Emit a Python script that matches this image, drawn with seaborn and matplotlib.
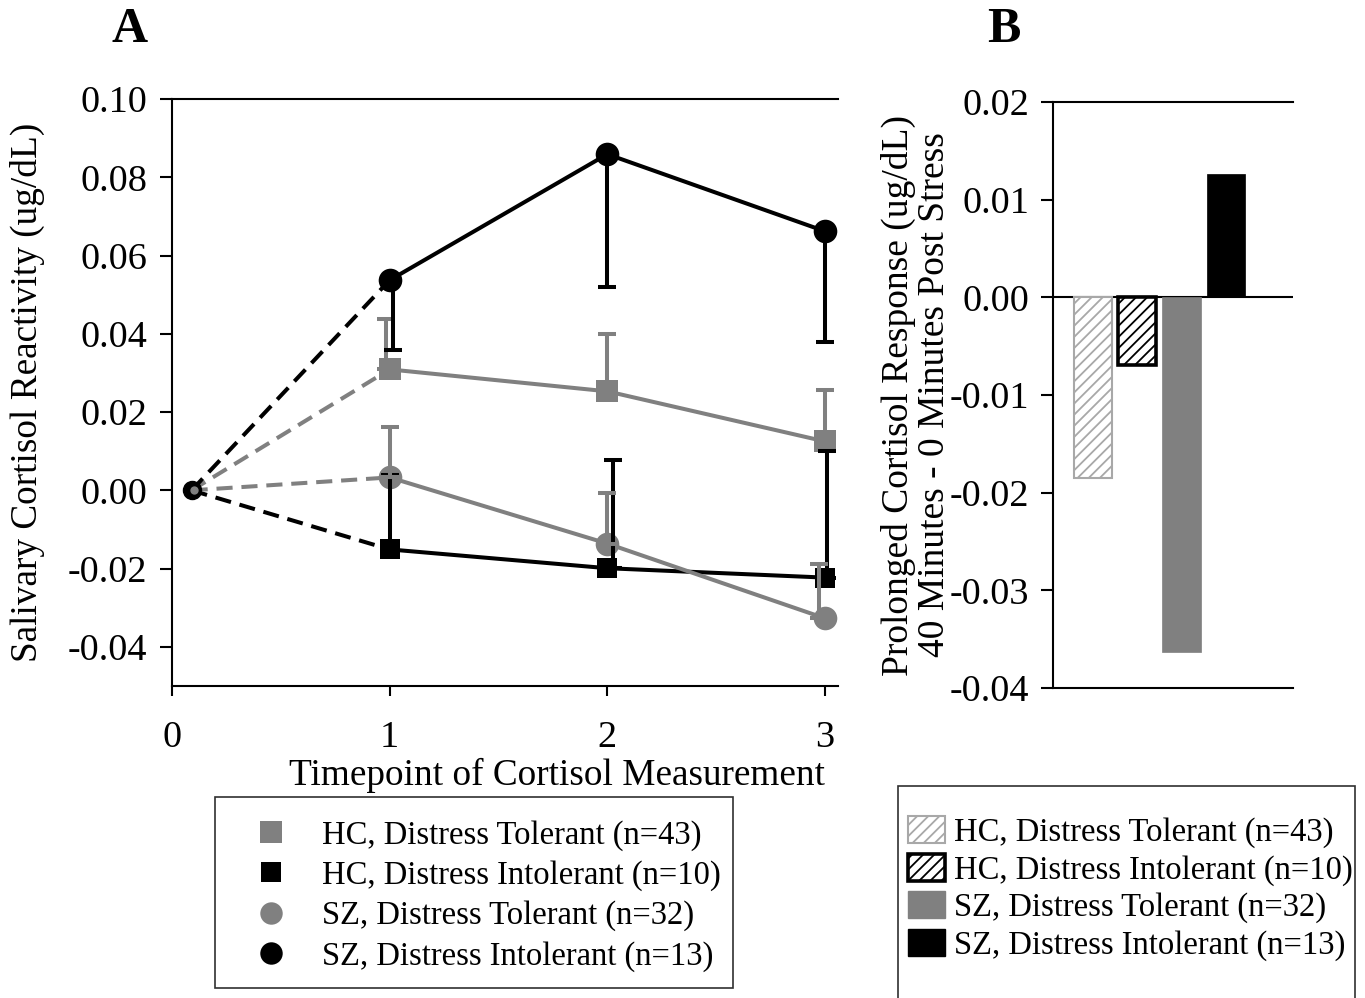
import matplotlib
matplotlib.use("Agg")
import matplotlib.pyplot as plt
import seaborn as sns
import pandas as pd
from matplotlib.lines import Line2D
from matplotlib.patches import Patch, Rectangle

# datos del panel A (reactividad del cortisol)
times = [1, 2, 3]
baseline_x = 0.09
hc_tol_mean = [0.0309, 0.0253, 0.0125]
hc_tol_err = [0.0128, 0.0146, 0.0131]
hc_intol_mean = [-0.0151, -0.0199, -0.0223]
hc_intol_err = [0.0189, 0.0276, 0.0323]
sz_tol_mean = [0.0033, -0.0136, -0.0327]
sz_tol_err = [0.0128, 0.0128, 0.0138]
sz_intol_mean = [0.0537, 0.0859, 0.0662]
sz_intol_err = [0.0179, 0.0340, 0.0283]

# datos del panel B (respuesta prolongada)
bar_groups = ["HC, Distress Tolerant (n=43)", "HC, Distress Intolerant (n=10)",
              "SZ, Distress Tolerant (n=32)", "SZ, Distress Intolerant (n=13)"]
bar_values = [-0.0185, -0.0069, -0.0363, 0.0126]

x_ticks = [0, 1, 2, 3]
ya_ticks = [-0.04, -0.02, 0.00, 0.02, 0.04, 0.06, 0.08, 0.10]
yb_ticks = [-0.04, -0.03, -0.02, -0.01, 0.00, 0.01, 0.02]

sns.set_style("ticks")
plt.rcParams["font.family"] = ["Liberation Serif", "DejaVu Serif"]
plt.rcParams["hatch.linewidth"] = 1.3
for k in ["text.color", "axes.labelcolor", "xtick.color", "ytick.color"]:
    plt.rcParams[k] = "black"

GRAY = "#808080"
LW = 2.9

fig = plt.figure(figsize=(13.65, 9.98), dpi=100)
axa = fig.add_axes([172 / 1365, 1 - 686 / 998, 666 / 1365, 587 / 998])
axb = fig.add_axes([1053 / 1365, 1 - 688 / 998, 240 / 1365, 586 / 998])

# series: (medias, error, color, marcador, tamano, error hacia arriba?, desplazamiento x del error)
series = [
    (hc_tol_mean, hc_tol_err, GRAY, "s", 16, True, [-0.018, 0.0, 0.0]),
    (hc_intol_mean, hc_intol_err, "black", "s", 15, True, [0.0, 0.025, 0.01]),
    (sz_tol_mean, sz_tol_err, GRAY, "o", 17, True, [0.0, 0.0, -0.028]),
    (sz_intol_mean, sz_intol_err, "black", "o", 17, False, [0.015, 0.0, 0.0]),
]

for mean, err, col, mk, ms, up, dx in series:
    axa.plot([baseline_x, times[0]], [0, mean[0]], color=col, lw=LW, ls="--",
             dashes=(4, 2.2), zorder=2)
for mean, err, col, mk, ms, up, dx in series:
    df = pd.DataFrame({"t": times, "v": mean})
    sns.lineplot(data=df, x="t", y="v", ax=axa, color=col, lw=LW, marker=mk,
                 markersize=ms, markeredgewidth=0, zorder=3)
for mean, err, col, mk, ms, up, dx in series:
    xs = [t + d for t, d in zip(times, dx)]
    yerr = [[0] * 3, err] if up else [err, [0] * 3]
    axa.errorbar(xs, mean, yerr=yerr, fmt="none", ecolor=col, elinewidth=LW,
                 capsize=6.5, capthick=LW, zorder=4)

# punto de base
axa.plot([baseline_x], [0], marker="o", color="black", markersize=13, zorder=5)
axa.plot([baseline_x + 0.01], [0], marker="o", color=GRAY, markersize=6,
         markeredgewidth=0, zorder=6)

axa.set_xlim(0, 3.06)
axa.set_ylim(-0.05, 0.10)
axa.set_xticks(x_ticks)
axa.set_yticks(ya_ticks)
axa.set_yticklabels([f"{v:.2f}" for v in ya_ticks])
axa.spines["right"].set_visible(False)
for s in ["left", "bottom", "top"]:
    axa.spines[s].set_linewidth(1.5)
    axa.spines[s].set_color("black")
axa.tick_params(axis="y", direction="out", length=9, width=1.5, pad=9, labelsize=27.5)
axa.tick_params(axis="x", direction="out", length=7, width=1.5, pad=18, labelsize=27.5)
axa.set_xlabel("Timepoint of Cortisol Measurement", fontsize=26.8)
axa.xaxis.set_label_coords(0.578, -0.123)
axa.xaxis.label.set_va("top")
axa.set_ylabel("Salivary Cortisol Reactivity (ug/dL)", fontsize=26.8)
axa.yaxis.set_label_coords(-0.19, 0.5)

# panel B
sns.barplot(x=bar_groups, y=bar_values, hue=bar_groups,
            palette=["white", "white", GRAY, "black"], saturation=1,
            width=0.86, ax=axb, legend=False)
bar_styles = [
    dict(edgecolor="#a8a8a8", hatch="///", linewidth=1.5),
    dict(edgecolor="black", hatch="///", linewidth=2.6),
    dict(edgecolor=GRAY, hatch=None, linewidth=0.5),
    dict(edgecolor="black", hatch=None, linewidth=0.5),
]
for p, st in zip(axb.patches, bar_styles):
    p.set_edgecolor(st["edgecolor"])
    p.set_linewidth(st["linewidth"])
    if st["hatch"]:
        p.set_hatch(st["hatch"])
axb.axhline(0, color="black", lw=1.5, zorder=0.5)
axb.set_xlim(-0.905, 4.52)
axb.set_ylim(-0.04, 0.02)
axb.set_yticks(yb_ticks)
axb.set_yticklabels([f"{v:.2f}" for v in yb_ticks])
axb.set_xticks([])
axb.spines["right"].set_visible(False)
for s in ["left", "bottom", "top"]:
    axb.spines[s].set_linewidth(1.5)
    axb.spines[s].set_color("black")
axb.tick_params(axis="y", direction="out", length=9, width=1.5, pad=8, labelsize=27.5)
axb.set_xlabel("")
axb.set_ylabel("Prolonged Cortisol Response (ug/dL)\n40 Minutes - 0 Minutes Post Stress",
               fontsize=27, linespacing=1.05)
axb.yaxis.set_label_coords(-0.42, 0.5)

# letras de panel
fig.text(130 / 1365, 1 - 30 / 998, "A", fontsize=36, fontweight="bold", ha="center", va="center")
fig.text(1004 / 1365, 1 - 30 / 998, "B", fontsize=36, fontweight="bold", ha="center", va="center")

# leyenda A
handles_a = [Line2D([], [], ls="none", marker=mk, color=col, markersize=ms * 0.95,
                    markeredgewidth=0) for _, _, col, mk, ms, _, _ in series]
fig.legend(handles_a, bar_groups, loc="upper left",
           bbox_to_anchor=(252 / 1365, 1 - 820 / 998), frameon=False, fontsize=23.5,
           handlelength=1.15, handletextpad=1.0, labelspacing=0.29,
           borderpad=0, borderaxespad=0)
fig.add_artist(Rectangle((215 / 1365, 1 - 988 / 998), 518 / 1365, 191 / 998,
                         transform=fig.transFigure, fill=False, edgecolor="#303030", lw=1.2))

# leyenda B
handles_b = [
    Patch(facecolor="white", edgecolor="#a8a8a8", hatch="///", lw=1.5),
    Patch(facecolor="white", edgecolor="black", hatch="///", lw=2.6),
    Patch(facecolor=GRAY, edgecolor=GRAY),
    Patch(facecolor="black", edgecolor="black"),
]
fig.legend(handles_b, bar_groups, loc="upper left",
           bbox_to_anchor=(908 / 1365, 1 - 816 / 998), frameon=False, fontsize=23.5,
           handlelength=1.12, handleheight=0.9, handletextpad=0.3, labelspacing=0.17,
           borderpad=0, borderaxespad=0)
fig.add_artist(Rectangle((898 / 1365, -0.02), 457 / 1365, 1 - 786 / 998 + 0.02,
                         transform=fig.transFigure, fill=False, edgecolor="#303030", lw=1.2))

fig.savefig("out.png", dpi=100)
